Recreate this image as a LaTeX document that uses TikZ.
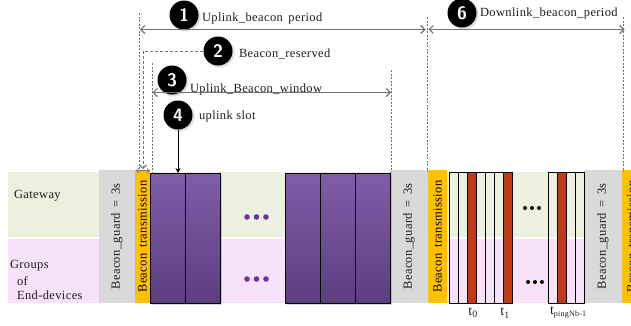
\documentclass[tikz,border=0pt]{standalone}
\usepackage{fontspec}
\setmainfont{Liberation Serif}[LetterSpace=3]
\usetikzlibrary{arrows.meta,shadows}

\definecolor{gwgreen}{RGB}{236,241,223}
\definecolor{edpink}{RGB}{248,226,250}
\definecolor{guardgray}{RGB}{217,217,217}
\definecolor{beaconorange}{RGB}{255,192,0}
\definecolor{ulpurpleTop}{RGB}{128,93,168}
\definecolor{ulpurpleBot}{RGB}{92,62,128}
\definecolor{pingred}{RGB}{192,58,22}
\definecolor{dotpurple}{RGB}{112,48,160}
\definecolor{txtgray}{RGB}{30,30,30}
\definecolor{linegray}{RGB}{115,115,115}

\tikzset{
  lbl/.style={font=\fontsize{12.5}{14}\selectfont, text=txtgray, inner sep=0pt, outer sep=0pt},
  tlbl/.style={font=\fontsize{14}{16}\selectfont, text=txtgray, inner sep=0pt, outer sep=0pt},
  rowbox/.style={rectangle, anchor=north west, inner sep=0pt, outer sep=0pt, minimum width=623pt},
  guardbox/.style={rectangle, fill=guardgray, rotate=90, minimum width=133pt, minimum height=#1, lbl},
  beaconbox/.style={rectangle, fill=beaconorange, rotate=90, minimum width=133pt, minimum height=#1, lbl, text=black},
  ulslot/.style={rectangle, draw=black, line width=0.9pt, top color=ulpurpleTop, bottom color=ulpurpleBot,
    minimum width=35pt, minimum height=130pt, inner sep=0pt, outer sep=0pt,
    drop shadow={opacity=0.35, shadow xshift=1.5pt, shadow yshift=-1.5pt}},
  pingslot/.style={rectangle, draw=black, line width=0.9pt, minimum width=9pt, minimum height=131pt,
    inner sep=0pt, outer sep=0pt, anchor=north west},
  numdot/.style={circle, fill=black, text=white, minimum size=29pt, inner sep=0pt,
    font=\fontsize{18}{18}\selectfont\sffamily\bfseries,
    circular drop shadow={opacity=0.3, shadow xshift=1pt, shadow yshift=-1pt}},
  spanarrow/.style={draw=linegray, line width=1.2pt,
    {Straight Barb[length=4pt,width=8pt]}-{Straight Barb[length=4pt,width=8pt]}},
  guide/.style={draw=linegray, line width=0.6pt, dash pattern=on 2pt off 1.5pt},
  reservedline/.style={draw=linegray, line width=0.9pt, dash pattern=on 3pt off 2pt,
    -{Straight Barb[length=3.5pt,width=7pt]}},
}

\begin{document}
\begin{tikzpicture}[x=1pt,y=-1pt]
\clip (0,0) rectangle (631,325);

% rows of the frame
\node[rowbox, fill=gwgreen, minimum height=65pt] (gwRow) at (8,172) {};
\node[rowbox, fill=edpink, minimum height=64pt] (edRow) at (8,239) {};
\node[lbl, anchor=west] (gwLabel) at (14,196) {Gateway};
\node[lbl, anchor=west] (grpLabel) at (10,266) {Groups};
\node[lbl, anchor=west] (ofLabel) at (17,281) {of};
\node[lbl, anchor=west] (edLabel) at (17,295) {End-devices};

% guards and beacons
\node[guardbox=36pt] (guardA) at (117,236.5) {Beacon\_guard \,=\, 3s};
\node[beaconbox=15pt] (beaconA) at (142.5,236.5) {Beacon\, transmission};
\node[guardbox=38pt] (guardB) at (409,236.5) {Beacon\_guard \,=\, 3s};
\node[beaconbox=19pt] (beaconB) at (437.5,236.5) {Beacon\, transmission};
\node[guardbox=38pt] (guardC) at (603,236.5) {Beacon\_guard \,=\, 3s};
\node[beaconbox=19pt] (beaconC) at (631.5,236.5) {Beacon\, transmission};

% uplink slots
\node[ulslot] (ulA) at (167.5,238) {};
\node[ulslot] (ulB) at (202.5,238) {};
\node[ulslot] (ulC) at (302.5,238) {};
\node[ulslot] (ulD) at (337.5,238) {};
\node[ulslot] (ulE) at (372.5,238) {};
\foreach \x in {247,256.5,266} \fill[dotpurple] (\x,217) circle (2.8pt);
\foreach \x in {247,256.5,266} \fill[dotpurple] (\x,279) circle (2.8pt);

% ping slots
\foreach \i in {0,...,6} {
  \pgfmathsetmacro{\sx}{449+9*\i}
  \ifnum\i=2 \node[pingslot, fill=pingred] (ps\i) at (\sx,172) {};
  \else\ifnum\i=6 \node[pingslot, fill=pingred] (ps\i) at (\sx,172) {};
  \else \node[pingslot] (ps\i) at (\sx,172) {};
  \fi\fi
}
\foreach \i in {0,...,3} {
  \pgfmathsetmacro{\sx}{548.5+9*\i}
  \ifnum\i=1 \node[pingslot, fill=pingred] (pq\i) at (\sx,172) {};
  \else \node[pingslot] (pq\i) at (\sx,172) {};
  \fi
}
\foreach \x in {525,532,539} \fill[black] (\x,208) circle (2pt);
\foreach \x in {528,535,542} \fill[black] (\x,282) circle (2pt);
\node[tlbl] (tZero) at (473,313) {t\textsubscript{0}};
\node[tlbl] (tOne) at (505,313) {t\textsubscript{1}};
\node[tlbl, anchor=west] (tLast) at (550,312) {t\textsubscript{\fontsize{8}{9}\selectfont pingNb-1}};

% numbered markers and their texts
\node[numdot] (c1) at (184,15) {1};
\node[numdot] (c2) at (218,51) {2};
\node[numdot] (c3) at (172,80) {3};
\node[numdot] (c4) at (178,115) {4};
\node[numdot] (c6) at (462,13) {6};
\node[lbl, anchor=base west] (t1) at (202,21.5) {Uplink\_beacon\, period};
\node[lbl, anchor=base west] (t2) at (239,57) {Beacon\_reserved};
\node[lbl, anchor=base west] (t3) at (190,92) {Uplink\_Beacon\_window};
\node[lbl, anchor=base west] (t4) at (199,119) {uplink slot};
\node[lbl, anchor=base west] (t6) at (480,16) {Downlink\_beacon\_period};

% guide lines
\coordinate (gA1) at (139,13);  \coordinate (gA2) at (139,170);
\coordinate (gB1) at (152,63);  \coordinate (gB2) at (152,172);
\coordinate (gC1) at (391,70);  \coordinate (gC2) at (391,172);
\coordinate (gD1) at (427,17);  \coordinate (gD2) at (427,172);
\coordinate (gE1) at (623.5,17); \coordinate (gE2) at (623.5,172);
\draw[guide] (gA1) -- (gA2);
\draw[guide] (gB1) -- (gB2);
\draw[guide] (gC1) -- (gC2);
\draw[guide] (gD1) -- (gD2);
\draw[guide] (gE1) -- (gE2);

% spans
\coordinate (ulStart) at (140,29.5); \coordinate (ulEnd) at (425.5,29.5);
\coordinate (dlStart) at (428.5,29.5); \coordinate (dlEnd) at (624.5,29.5);
\coordinate (uwStart) at (152.5,92.5); \coordinate (uwEnd) at (391,92.5);
\draw[spanarrow] (ulStart) -- (ulEnd);
\draw[spanarrow] (dlStart) -- (dlEnd);
\draw[spanarrow] (uwStart) -- (uwEnd);

% beacon reserved pointer
\coordinate (resTip) at (143,169);
\draw[reservedline] (c2.west) -| (resTip);
\coordinate (resL) at (136,170.5); \coordinate (resR) at (150,170.5);
\draw[draw=linegray, line width=0.6pt,
  {Straight Barb[length=2.5pt,width=5pt]}-{Straight Barb[length=2.5pt,width=5pt]}] (resL) -- (resR);

% uplink slot pointer
\draw[black, line width=0.7pt, -{Stealth[length=5pt,width=5pt]}] (c4.south) -- (c4.south |- ulA.north);
\end{tikzpicture}
\end{document}
